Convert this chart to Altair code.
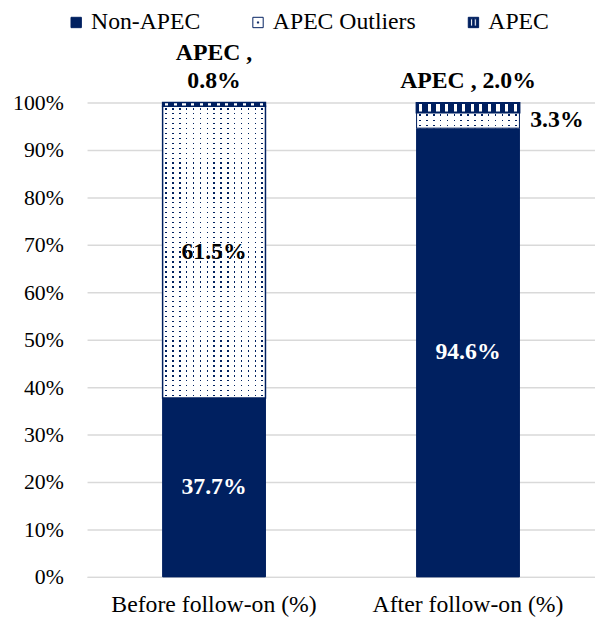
import altair as alt
import pandas as pd

categories = ["Before follow-on (%)", "After follow-on (%)"]
segments = ["Non-APEC", "APEC Outliers", "APEC"]
non_apec = [37.7, 94.6]
outliers = [61.5, 3.3]
apec = [0.8, 2.0]

NAVY = "#002060"
FONT = "Liberation Serif, Times New Roman, serif"
CLEAR = "rgba(255,255,255,0)"

# ---- build stacked table
rows = []
for i, c in enumerate(categories):
    start = 0.0
    for s, vals in zip(segments, [non_apec, outliers, apec]):
        v = vals[i]
        rows.append({"category": c, "segment": s, "value": v,
                     "start": start / 100, "end": (start + v) / 100,
                     "mid": (start + v / 2) / 100, "label": f"{v:.1f}%"})
        start += v
df = pd.DataFrame(rows)


def periodic(n, parts, horizontal=True):
    """parts: list of (fraction, colour) making one period; repeated n times."""
    stops = []
    for k in range(n):
        pos = k / n
        for frac, col in parts:
            nxt = pos + frac / n
            stops.append({"offset": round(pos, 6), "color": col})
            stops.append({"offset": round(min(nxt, 1.0), 6), "color": col})
            pos = nxt
    g = {"gradient": "linear", "stops": stops}
    if horizontal:
        g.update({"x1": 0, "x2": 1, "y1": 0, "y2": 0})
    else:
        g.update({"x1": 0, "x2": 0, "y1": 0, "y2": 1})
    return g


dot_cols = periodic(15, [(0.4, "white"), (0.22, NAVY), (0.38, "white")], True)
rows_before = periodic(59, [(0.35, "white"), (0.3, CLEAR), (0.35, "white")], False)
rows_after = periodic(3, [(0.35, "white"), (0.3, CLEAR), (0.35, "white")], False)
apec_stripes = periodic(12, [(0.32, NAVY), (0.36, "white"), (0.32, NAVY)], True)

# legend symbol shapes (unit square paths)
SQUARE = "M-1,-1H1V1H-1Z"
SQUARE_DOT = "M-1,-1H1V1H-1Z M-0.12,-0.12H0.12V0.12H-0.12Z"
SQUARE_STRIPES = ("M-1,-1H1V1H-1Z "
                  "M-0.55,-0.7V0.7H-0.15V-0.7Z "
                  "M0.15,-0.7V0.7H0.55V-0.7Z")

x_enc = alt.X("category:N", sort=categories,
              scale=alt.Scale(paddingInner=0.595, paddingOuter=0.2975),
              axis=alt.Axis(title=None, labelAngle=0, labelAlign="center",
                            labelBaseline="top", labelLimit=400,
                            labelFont=FONT, labelFontSize=24, labelColor="black",
                            ticks=False, domain=True,
                            domainColor="#d9d9d9", domainWidth=1.5, labelPadding=16))
y_enc = alt.Y("start:Q", scale=alt.Scale(domain=[0, 1]),
              axis=alt.Axis(title=None, values=[i / 10 for i in range(11)], format=".0%",
                            labelFont=FONT, labelFontSize=22, labelColor="black",
                            ticks=False, domain=False, gridColor="#d9d9d9",
                            gridWidth=1.5, labelPadding=24))

base = alt.Chart(df)

bars = base.mark_bar(stroke=NAVY, strokeWidth=1).encode(
    x=x_enc, y=y_enc, y2="end:Q",
    fill=alt.condition(alt.datum.segment == "APEC Outliers",
                       alt.value("white"), alt.value(NAVY)),
)

legend = alt.Legend(title=None, orient="none", legendX=-23, legendY=-93,
                    direction="horizontal", columns=3, symbolSize=110,
                    symbolStrokeWidth=1, labelOffset=3, columnPadding=46,
                    labelFont=FONT, labelFontSize=24, labelColor="black")

legend_layer = base.transform_filter(alt.datum.category == categories[0]).mark_point(
    size=0, filled=True, strokeWidth=1, opacity=1).encode(
    x=alt.X("category:N", sort=categories), y="start:Q",
    fill=alt.Fill("segment:N", scale=alt.Scale(domain=segments,
                                               range=[NAVY, "white", NAVY]),
                  legend=legend),
    stroke=alt.Stroke("segment:N", scale=alt.Scale(domain=segments,
                                                   range=[NAVY, NAVY, NAVY]),
                      legend=legend),
    shape=alt.Shape("segment:N", scale=alt.Scale(domain=segments,
                                                 range=[SQUARE, SQUARE_DOT, SQUARE_STRIPES]),
                    legend=legend),
)


def seg_layer(seg, cat, fill, stroke=None, sw=0):
    kw = {"fill": fill, "strokeWidth": sw}
    if stroke:
        kw["stroke"] = stroke
    return base.transform_filter(
        (alt.datum.segment == seg) & (alt.datum.category == cat)
    ).mark_bar(**kw).encode(x=alt.X("category:N", sort=categories),
                            y="start:Q", y2="end:Q")


pattern_layers = [
    seg_layer("APEC Outliers", categories[0], dot_cols),
    seg_layer("APEC Outliers", categories[0], rows_before, NAVY, 1.5),
    seg_layer("APEC Outliers", categories[1], dot_cols),
    seg_layer("APEC Outliers", categories[1], rows_after, NAVY, 1),
    seg_layer("APEC", categories[0], apec_stripes, NAVY, 1.5),
    seg_layer("APEC", categories[1], apec_stripes, NAVY, 2),
]

text_style = dict(font=FONT, fontSize=24, fontWeight="bold")

white_labels = base.transform_filter(alt.datum.segment == "Non-APEC").mark_text(
    color="white", baseline="middle", **text_style).encode(
    x=alt.X("category:N", sort=categories), y="mid:Q", text="label:N")

out_before = base.transform_filter(
    (alt.datum.segment == "APEC Outliers") & (alt.datum.category == categories[0])
).mark_text(color="black", baseline="middle", **text_style).encode(
    x=alt.X("category:N", sort=categories), y="mid:Q", text="label:N")

out_after = base.transform_filter(
    (alt.datum.segment == "APEC Outliers") & (alt.datum.category == categories[1])
).mark_text(color="black", baseline="middle", align="left", dx=63, **text_style).encode(
    x=alt.X("category:N", sort=categories), y="mid:Q", text="label:N")

apec_before = base.transform_filter(
    (alt.datum.segment == "APEC") & (alt.datum.category == categories[0])
).transform_calculate(txt="'APEC ,\\n' + datum.label").mark_text(
    color="black", baseline="bottom", lineBreak="\n", lineHeight=28, dy=-38,
    **text_style).encode(
    x=alt.X("category:N", sort=categories), y=alt.datum(1.0), text="txt:N")

apec_after = base.transform_filter(
    (alt.datum.segment == "APEC") & (alt.datum.category == categories[1])
).transform_calculate(txt="'APEC , ' + datum.label").mark_text(
    color="black", baseline="bottom", dy=-10, **text_style).encode(
    x=alt.X("category:N", sort=categories), y=alt.datum(1.0), text="txt:N")

chart = alt.layer(legend_layer, bars, *pattern_layers, white_labels, out_before,
                  out_after, apec_before, apec_after).properties(
    width=514, height=480,
    autosize=alt.AutoSizeParams(type="none"),
    padding={"left": 80, "top": 92, "right": 0, "bottom": 42},
).configure(font=FONT).configure_view(stroke=None)

chart.save("out.html", embed_options={"renderer": "svg", "actions": False})
